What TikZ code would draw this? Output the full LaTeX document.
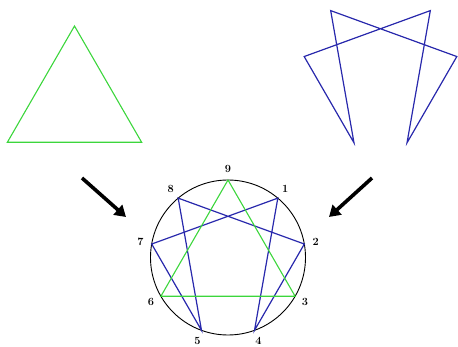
\documentclass[tikz,border=0pt]{standalone}
\usepackage{tikz}
\usetikzlibrary{arrows.meta, calc}
\definecolor{ennagreen}{HTML}{3CD63C}
\definecolor{ennablue}{HTML}{2828AC}

\begin{document}
\begin{tikzpicture}[
  x=1pt, y=-1pt,
  triad/.style={draw=ennagreen, line width=1.1pt, line join=miter},
  hexad/.style={draw=ennablue, line width=1.2pt, line join=miter},
  ring/.style={draw=black, line width=0.9pt},
  lbl/.style={font=\fontsize{11}{11}\selectfont\bfseries, inner sep=0pt},
  bigarrow/.style={line width=3.6pt, -{Triangle[length=11pt, width=13pt]}},
]
  \useasboundingbox (0,0) rectangle (458,347);

  % centres: left triangle, right figure, full enneagram
  \coordinate (cl) at (74.5,103.5);
  \coordinate (cr) at (380.5,70);
  \coordinate (cm) at (228,257.5);

  \foreach \k in {1,...,9} {
    \path (cm) ++({40*\k-90}:77.5) coordinate (m\k);
    \path (cl) ++({40*\k-90}:77.5) coordinate (l\k);
    \path (cr) ++({40*\k-90}:77.5) coordinate (r\k);
    \path (cm) ++({40*\k-90}:89) node[lbl] (n\k) {\k};
  }

  % left: the triangle
  \draw[triad] (l9) -- (l3) -- (l6) -- cycle;

  % right: the hexad
  \draw[hexad] (r1) -- (r4) -- (r2) -- (r8) -- (r5) -- (r7) -- cycle;

  % bottom: both inside the circle
  \draw[ring] (cm) circle[radius=77.5];
  \draw[hexad] (m1) -- (m4) -- (m2) -- (m8) -- (m5) -- (m7) -- cycle;
  \draw[triad] (m9) -- (m3) -- (m6) -- cycle;

  % arrows
  \coordinate (al) at (82,178);
  \coordinate (bl) at (126,217);
  \coordinate (ar) at (372,178);
  \coordinate (br) at (329,217);
  \draw[bigarrow] (al) -- (bl);
  \draw[bigarrow] (ar) -- (br);
\end{tikzpicture}
\end{document}
